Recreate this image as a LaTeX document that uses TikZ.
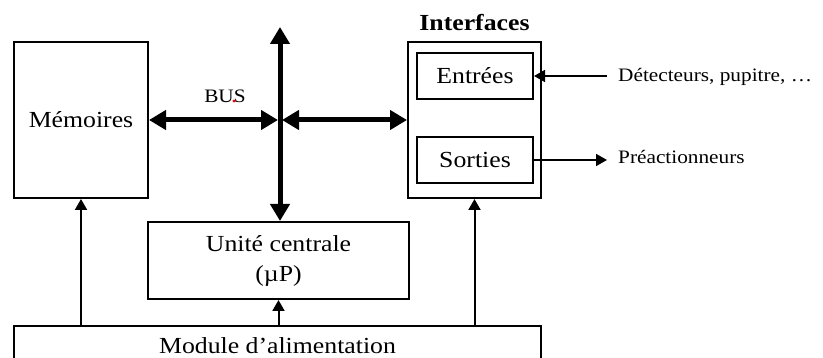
\documentclass[tikz,border=0pt]{standalone}
\usepackage{fontspec}
\setmainfont{Liberation Serif}[FakeStretch=1.12]
\usetikzlibrary{arrows.meta}
\begin{document}
\begin{tikzpicture}[x=1pt,y=-1pt,
  box/.style={draw, line width=2pt, rectangle, inner sep=0pt, align=center,
              font=\fontsize{23}{28}\selectfont},
  lbl/.style={inner sep=0pt, font=\fontsize{19}{23}\selectfont},
  power/.style={line width=2pt, -{Triangle[length=11pt,width=12pt]}},
  io/.style={line width=1.8pt, -{Triangle[length=11pt,width=12pt]}},
  bus/.style={line width=5pt, {Triangle[length=17pt,width=19pt]}-{Triangle[length=17pt,width=19pt]}}]
\useasboundingbox (0,0) rectangle (823,358);
\clip (0,0) rectangle (823,358);

% blocks
\node[box, minimum width=134, minimum height=156] (mem) at (81,120) {Mémoires};
\node[box, minimum width=261, minimum height=77] (uc) at (278.5,260.5) {Unité centrale\\[2pt](µP)};
\node[box, minimum width=527, minimum height=40] (mod) at (277.5,346) {Module d’alimentation};
\node[box, minimum width=133, minimum height=156] (itf) at (474.5,120) {};
\node[box, minimum width=116, minimum height=46] (ent) at (475,76) {Entrées};
\node[box, minimum width=116, minimum height=46] (sor) at (475,160) {Sorties};
\node[inner sep=0pt, font=\fontsize{23}{28}\selectfont\bfseries] (itft) at (474.5,23) {Interfaces};

% bus
\coordinate (x) at (280,120);
\coordinate (top) at (280,27);
\node[lbl] (bus) at (225,96) {BUS};
\fill[red] (234,101) circle (1.6);
\draw[bus] (top) -- (x |- uc.north);
\draw[bus] (mem.east) -- ([xshift=-2pt]x);
\draw[bus] ([xshift=2pt]x) -- (itf.west);

% power supply
\draw[power] (mem.south |- mod.north) -- (mem.south);
\draw[power] (uc.south |- mod.north) -- (uc.south);
\draw[power] (itf.south |- mod.north) -- (itf.south);

% inputs / outputs
\node[lbl, anchor=base west] (det) at (618,82) {Détecteurs, pupitre, …};
\node[lbl, anchor=base west] (pre) at (618,164) {Préactionneurs};
\coordinate (din) at (607,76);
\coordinate (pout) at (607,160);
\draw[io] (din) -- (ent.east);
\draw[io] (sor.east) -- (pout);
\end{tikzpicture}
\end{document}
